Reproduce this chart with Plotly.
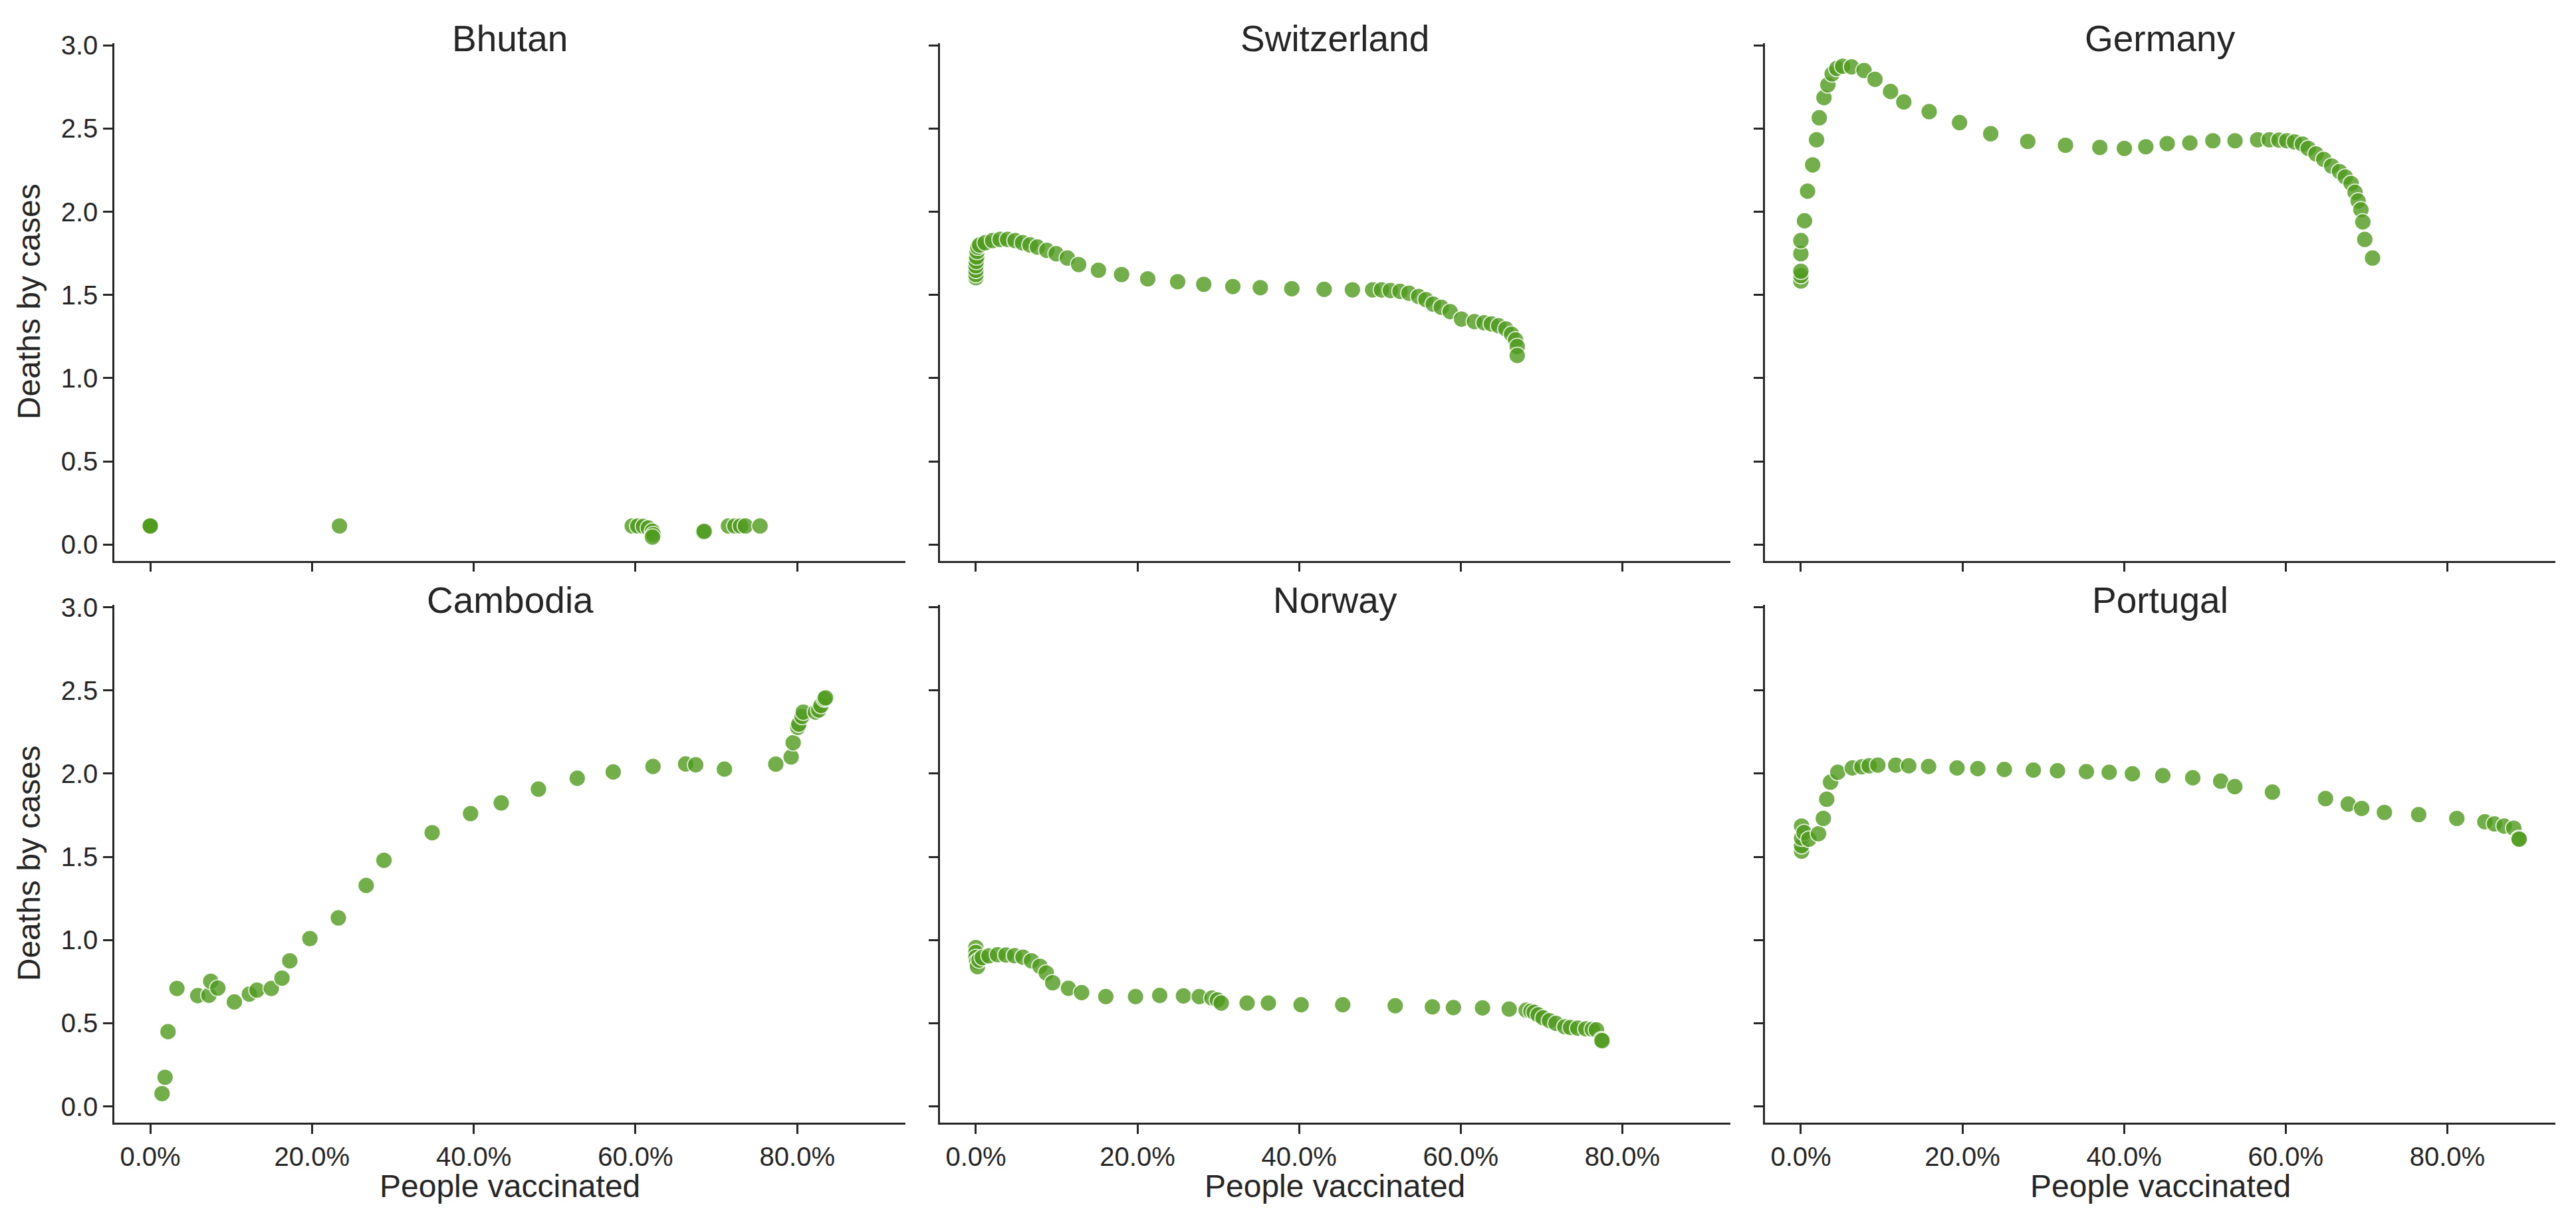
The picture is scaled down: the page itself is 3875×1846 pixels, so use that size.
import plotly.graph_objects as go
from plotly.subplots import make_subplots

# ---------------- data (x: % people vaccinated, y: deaths by cases) ----------------
countries = ["Bhutan", "Switzerland", "Germany", "Cambodia", "Norway", "Portugal"]

bhutan_x = [0.0, 0.0, 0.0, 23.4, 59.6, 60.3, 61.0, 61.6, 62.1, 62.2, 62.1, 68.4, 68.5,
            71.5, 72.3, 73.0, 73.6, 75.4]
bhutan_y = [0.112, 0.112, 0.112, 0.112, 0.112, 0.112, 0.110, 0.100, 0.080, 0.060, 0.045,
            0.075, 0.080, 0.112, 0.112, 0.112, 0.112, 0.112]

switzerland_x = [0.0, 0.0, 0.0, 0.0, 0.05, 0.1, 0.15, 0.25, 0.47, 1.16, 2.08, 3.01, 3.93,
                 4.86, 5.78, 6.71, 7.63, 8.79, 9.94, 11.33, 12.72, 15.17, 18.03, 21.27,
                 24.97, 28.2, 31.8, 35.2, 39.1, 43.1, 46.6, 49.1, 50.2, 51.3, 52.5, 53.6,
                 54.8, 55.7, 56.6, 57.6, 58.7, 60.1, 61.7, 62.9, 63.8, 64.7, 65.6, 66.3,
                 66.8, 67.0, 67.0]
switzerland_y = [1.604, 1.623, 1.649, 1.676, 1.702, 1.729, 1.762, 1.788, 1.801, 1.814,
                 1.827, 1.834, 1.834, 1.827, 1.814, 1.801, 1.788, 1.768, 1.748, 1.722,
                 1.683, 1.649, 1.623, 1.597, 1.580, 1.564, 1.551, 1.544, 1.538, 1.534,
                 1.531, 1.531, 1.531, 1.527, 1.522, 1.511, 1.491, 1.472, 1.445, 1.426,
                 1.400, 1.355, 1.340, 1.333, 1.326, 1.315, 1.296, 1.264, 1.230, 1.190,
                 1.136]

germany_x = [0.0, 0.0, 0.0, 0.0, 0.0, 0.45, 0.83, 1.46, 1.94, 2.28, 2.86, 3.34, 3.87,
             4.45, 5.18, 6.28, 7.82, 9.18, 11.1, 12.74, 15.88, 19.64, 23.5, 28.08, 32.75,
             37.0, 40.04, 42.69, 45.34, 48.14, 50.99, 53.73, 56.53, 57.98, 59.18, 60.15,
             61.11, 62.08, 62.8, 63.76, 64.72, 65.69, 66.66, 67.38, 68.1, 68.59, 68.97,
             69.31, 69.55, 69.79, 70.75]
germany_y = [1.584, 1.617, 1.643, 1.748, 1.827, 1.946, 2.124, 2.282, 2.433, 2.565, 2.686,
             2.763, 2.829, 2.862, 2.875, 2.871, 2.849, 2.796, 2.723, 2.660, 2.602, 2.536,
             2.469, 2.423, 2.400, 2.387, 2.381, 2.391, 2.410, 2.414, 2.427, 2.427, 2.433,
             2.433, 2.431, 2.427, 2.420, 2.407, 2.381, 2.348, 2.315, 2.275, 2.242, 2.209,
             2.170, 2.117, 2.065, 2.012, 1.939, 1.834, 1.722]

cambodia_x = [1.46, 1.83, 2.2, 3.3, 5.87, 7.26, 7.48, 8.36, 10.4, 12.25, 13.2, 14.97,
              16.29, 17.25, 19.74, 23.26, 26.7, 28.9, 34.86, 39.61, 43.4, 48.0, 52.8,
              57.25, 62.17, 66.2, 67.45, 71.0, 77.35, 79.25, 79.5, 80.07, 80.2, 80.6,
              80.75, 82.26, 82.67, 82.94, 83.36, 83.5]
cambodia_y = [0.077, 0.175, 0.449, 0.709, 0.666, 0.668, 0.752, 0.711, 0.628, 0.675,
              0.699, 0.709, 0.771, 0.875, 1.009, 1.133, 1.328, 1.479, 1.645, 1.760,
              1.824, 1.907, 1.972, 2.010, 2.043, 2.058, 2.053, 2.027, 2.057, 2.100,
              2.186, 2.278, 2.298, 2.344, 2.370, 2.370, 2.383, 2.410, 2.449, 2.456]

norway_x = [0.0, 0.0, 0.0, 0.1, 0.2, 0.4, 0.8, 1.63, 2.69, 3.73, 4.79, 5.84, 6.89, 7.94,
            8.72, 9.51, 11.46, 13.09, 16.08, 19.76, 22.75, 25.69, 27.64, 29.22, 29.9,
            30.37, 33.57, 36.2, 40.25, 45.4, 51.9, 56.5, 59.1, 62.7, 66.0, 68.1, 68.7,
            69.1, 69.6, 70.2, 71.0, 71.8, 72.9, 73.6, 74.5, 75.5, 76.3, 76.8, 77.4, 77.5]
norway_y = [0.955, 0.925, 0.895, 0.868, 0.840, 0.880, 0.895, 0.905, 0.912, 0.910, 0.906,
            0.897, 0.875, 0.842, 0.802, 0.743, 0.710, 0.684, 0.660, 0.660, 0.667, 0.664,
            0.660, 0.651, 0.640, 0.621, 0.621, 0.621, 0.611, 0.611, 0.605, 0.598, 0.594,
            0.592, 0.585, 0.578, 0.572, 0.565, 0.550, 0.532, 0.515, 0.499, 0.478, 0.474,
            0.470, 0.466, 0.463, 0.460, 0.400, 0.395]

portugal_x = [0.09, 0.09, 0.09, 0.09, 0.4, 0.99, 2.18, 2.78, 3.2, 3.67, 4.57, 6.37, 7.56,
              8.46, 9.53, 11.74, 13.35, 15.81, 19.33, 21.9, 25.18, 28.77, 31.76, 35.34,
              38.16, 41.03, 44.79, 48.5, 51.96, 53.7, 58.36, 64.93, 67.74, 69.41, 72.22,
              76.46, 81.18, 84.65, 85.84, 87.04, 88.23, 88.83, 88.9]
portugal_y = [1.534, 1.567, 1.613, 1.685, 1.646, 1.606, 1.639, 1.731, 1.846, 1.949, 2.008,
              2.034, 2.041, 2.047, 2.051, 2.051, 2.047, 2.043, 2.034, 2.030, 2.025, 2.021,
              2.017, 2.012, 2.008, 1.999, 1.988, 1.975, 1.955, 1.922, 1.889, 1.850, 1.817,
              1.791, 1.767, 1.754, 1.731, 1.711, 1.698, 1.685, 1.672, 1.610, 1.606]

x_ticks = [0, 20, 40, 60, 80]
x_tick_labels = ["0.0%", "20.0%", "40.0%", "60.0%", "80.0%"]
y_ticks = [0.0, 0.5, 1.0, 1.5, 2.0, 2.5, 3.0]
y_tick_labels = ["0.0", "0.5", "1.0", "1.5", "2.0", "2.5", "3.0"]

series = {
    "Bhutan": (bhutan_x, bhutan_y),
    "Switzerland": (switzerland_x, switzerland_y),
    "Germany": (germany_x, germany_y),
    "Cambodia": (cambodia_x, cambodia_y),
    "Norway": (norway_x, norway_y),
    "Portugal": (portugal_x, portugal_y),
}

# ---------------- layout geometry ----------------
W, H = 3875, 1846
col_dom = [(172 / W, 1362 / W), (1414 / W, 2603 / W), (2655 / W, 3844 / W)]
row_dom = [(0.54837, 0.97454), (0.08597, 0.51213)]   # top row, bottom row
title_y = [0.9782, 0.5157]
ylab_y = [0.7614, 0.2991]

TXT = "#262626"
FONT = "Liberation Sans, Arial, Helvetica, sans-serif"
MARKER = "rgb(80,156,30)"

fig = make_subplots(rows=2, cols=3)

for i, name in enumerate(countries):
    r, c = divmod(i, 3)
    xs, ys = series[name]
    fig.add_trace(
        go.Scatter(
            x=xs, y=ys, mode="markers", name=name, showlegend=False,
            marker=dict(size=25, color=MARKER, opacity=0.8,
                        line=dict(color="white", width=1.8)),
            hoverinfo="skip",
        ),
        row=r + 1, col=c + 1,
    )

axis_common = dict(
    showline=True, linecolor=TXT, linewidth=2.5,
    ticks="outside", ticklen=14, tickwidth=2.5, tickcolor=TXT,
    showgrid=False, zeroline=False, mirror=False,
    tickfont=dict(family=FONT, size=40, color=TXT),
)

for i in range(6):
    r, c = divmod(i, 3)
    fig.update_xaxes(
        domain=list(col_dom[c]), range=[-4.44, 93.38],
        tickmode="array", tickvals=x_ticks, ticktext=x_tick_labels,
        showticklabels=(r == 1), row=r + 1, col=c + 1, **axis_common,
    )
    fig.update_yaxes(
        domain=list(row_dom[r]), range=[-0.097, 3.015],
        tickmode="array", tickvals=y_ticks, ticktext=y_tick_labels,
        showticklabels=(c == 0), row=r + 1, col=c + 1, **axis_common,
    )

annotations = []
for i, name in enumerate(countries):
    r, c = divmod(i, 3)
    annotations.append(dict(
        text=name, x=(col_dom[c][0] + col_dom[c][1]) / 2, y=title_y[r],
        xref="paper", yref="paper", xanchor="center", yanchor="middle",
        showarrow=False, font=dict(family=FONT, size=55, color=TXT),
    ))
for r in range(2):
    annotations.append(dict(
        text="Deaths by cases", x=43 / W, y=ylab_y[r], xref="paper", yref="paper",
        xanchor="center", yanchor="middle", textangle=-90, showarrow=False,
        font=dict(family=FONT, size=48, color=TXT),
    ))
for c in range(3):
    annotations.append(dict(
        text="People vaccinated", x=(col_dom[c][0] + col_dom[c][1]) / 2, y=0.0335,
        xref="paper", yref="paper", xanchor="center", yanchor="middle",
        showarrow=False, font=dict(family=FONT, size=48, color=TXT),
    ))

fig.update_layout(
    width=W, height=H, margin=dict(l=0, r=0, t=0, b=0, pad=0),
    paper_bgcolor="white", plot_bgcolor="white",
    annotations=annotations, showlegend=False,
    font=dict(family=FONT, color=TXT),
)

fig.write_html(
    "out.html",
    config={"displayModeBar": False},
    post_script="document.body.style.margin='0';document.body.style.overflow='hidden';",
)
